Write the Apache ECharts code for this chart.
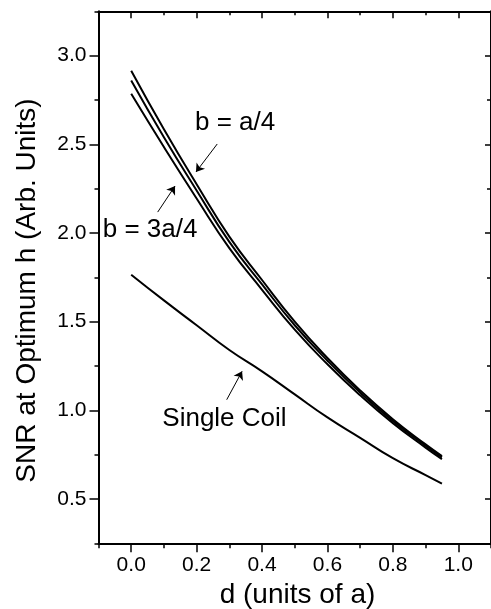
<!DOCTYPE html>
<html>
<head>
<meta charset="utf-8">
<script src="https://cdn.jsdelivr.net/npm/echarts@6/dist/echarts.min.js"></script>
<style>
html,body{margin:0;padding:0;background:#fff;}
#chart{width:491px;height:609px;}
</style>
</head>
<body>
<div id="chart"></div>
<script>
// ---- data ----
const dValues      = [0, 0.1, 0.2, 0.3, 0.4, 0.5, 0.6, 0.7, 0.8, 0.9, 0.95];
const bQuarter     = [2.915, 2.585, 2.275, 1.98, 1.735, 1.50, 1.295, 1.112, 0.95, 0.808, 0.742]; // b = a/4
const bHalf        = [2.86, 2.54, 2.24, 1.95, 1.71, 1.48, 1.28, 1.10, 0.94, 0.80, 0.735];
const bThreeQuart  = [2.785, 2.485, 2.195, 1.915, 1.68, 1.455, 1.26, 1.085, 0.928, 0.79, 0.725]; // b = 3a/4
const singleCoil   = [1.765, 1.62, 1.48, 1.34, 1.22, 1.09, 0.96, 0.845, 0.73, 0.635, 0.587];
const xMajorTicks  = [0, 0.2, 0.4, 0.6, 0.8, 1.0];
const xMinorTicks  = [-0.1, 0.1, 0.3, 0.5, 0.7, 0.9, 1.1];
const yMajorTicks  = [0.5, 1.0, 1.5, 2.0, 2.5, 3.0];
const yMinorTicks  = [0.25, 0.75, 1.25, 1.75, 2.25, 2.75, 3.25];
const arrows = [
  [[0.263, 2.502], [0.198, 2.344]],
  [[0.081, 2.118], [0.134, 2.265]],
  [[0.292, 1.060], [0.339, 1.220]]
];
const xTitle = 'd (units of a)';
const yTitle = 'SNR at Optimum h (Arb. Units)';

const FONT = "'Liberation Sans', Arial, Helvetica, sans-serif";
const pairs = (ys) => dValues.map((d, i) => [d, ys[i]]);

function xAxisDef(pos, ticks, len, inside, showLine, showLabel) {
  return {
    type: 'value', position: pos, min: -0.1, max: 1.1, gridIndex: 0,
    axisLine: { show: showLine, onZero: false, lineStyle: { color: '#000', width: 2 } },
    axisTick: { show: true, customValues: ticks, length: len, inside: inside, lineStyle: { color: '#000', width: 1.5 } },
    axisLabel: showLabel ? {
      show: true, customValues: ticks, margin: 11, color: '#000', fontSize: 21, fontFamily: FONT,
      formatter: (v) => v.toFixed(1)
    } : { show: false },
    splitLine: { show: false }
  };
}
function yAxisDef(pos, ticks, len, inside, showLine, showLabel) {
  return {
    type: 'value', position: pos, min: 0.25, max: 3.25, gridIndex: 0,
    axisLine: { show: showLine, onZero: false, lineStyle: { color: '#000', width: 2 } },
    axisTick: { show: true, customValues: ticks, length: len, inside: inside, lineStyle: { color: '#000', width: 1.5 } },
    axisLabel: showLabel ? {
      show: true, customValues: ticks, margin: 12, color: '#000', fontSize: 21, fontFamily: FONT,
      formatter: (v) => v.toFixed(1)
    } : { show: false },
    splitLine: { show: false }
  };
}

const chart = echarts.init(document.getElementById('chart'), null, { renderer: 'canvas' });
const lineStyle = { color: '#000', width: 2 };
const curve = (name, ys) => ({
  type: 'line', name: name, data: pairs(ys), smooth: true, showSymbol: false, symbol: 'none',
  xAxisIndex: 0, yAxisIndex: 0, lineStyle: lineStyle, itemStyle: { color: '#000' },
  silent: true
});

const singleSeries = curve('Single Coil', singleCoil);
singleSeries.markLine = {
  silent: true, animation: false,
  symbol: ['none', 'arrow'], symbolSize: 8,
  label: { show: false },
  lineStyle: { color: '#000', width: 1, type: 'solid' },
  data: arrows.map(a => [{ coord: a[0] }, { coord: a[1] }])
};

chart.setOption({
  animation: false,
  backgroundColor: '#fff',
  grid: { left: 98.5, top: 11.35, width: 395, height: 532, containLabel: false },
  xAxis: [
    xAxisDef('bottom', xMajorTicks, 9, false, true, true),
    xAxisDef('bottom', xMinorTicks, 5, false, false, false),
    xAxisDef('top', xMajorTicks, 7, true, true, false),
    xAxisDef('top', xMinorTicks, 4, true, false, false)
  ],
  yAxis: [
    yAxisDef('left', yMajorTicks, 9, false, true, true),
    yAxisDef('left', yMinorTicks, 4, false, false, false),
    yAxisDef('right', yMajorTicks, 6, true, true, false),
    yAxisDef('right', yMinorTicks, 4, true, false, false)
  ],
  series: [
    curve('b = a/4', bQuarter),
    curve('b = a/2', bHalf),
    curve('b = 3a/4', bThreeQuart),
    singleSeries
  ],
  graphic: [
    { type: 'text', left: null, x: 297.5, y: 595.7,
      style: { text: xTitle, fontSize: 28, fontFamily: FONT, fill: '#000', align: 'center', verticalAlign: 'middle' } },
    { type: 'text', x: 27, y: 290.5, rotation: Math.PI / 2,
      style: { text: yTitle, fontSize: 28, fontFamily: FONT, fill: '#000', align: 'center', verticalAlign: 'middle' } },
    { type: 'text', x: 195, y: 123,
      style: { text: 'b = a/4', fontSize: 26, fontFamily: FONT, fill: '#000', align: 'left', verticalAlign: 'middle' } },
    { type: 'text', x: 102.7, y: 230.3,
      style: { text: 'b = 3a/4', fontSize: 26, fontFamily: FONT, fill: '#000', align: 'left', verticalAlign: 'middle' } },
    { type: 'text', x: 162.3, y: 419,
      style: { text: 'Single Coil', fontSize: 26, fontFamily: FONT, fill: '#000', align: 'left', verticalAlign: 'middle' } }
  ]
});
</script>
</body>
</html>
